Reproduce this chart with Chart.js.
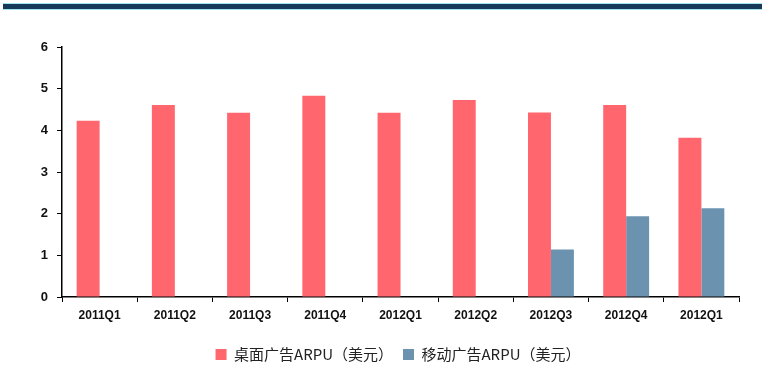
<!DOCTYPE html>
<html><head><meta charset="utf-8">
<script src="https://cdn.jsdelivr.net/npm/chart.js@4/dist/chart.umd.min.js"></script>
<style>
html,body{margin:0;padding:0;background:#fff;}
#wrap{position:relative;width:762px;height:378px;}
#band{position:absolute;left:3px;top:3px;width:759px;height:5px;background:#17395a;border-top:1px solid #9fe3f0;border-bottom:1px solid #9fe3f0;}
canvas{position:absolute;left:0;top:0;}
</style></head>
<body><div id="wrap"><div id="band"></div><canvas id="c" width="762" height="378"></canvas></div>
<script>
const categories = ["2011Q1","2011Q2","2011Q3","2011Q4","2012Q1","2012Q2","2012Q3","2012Q4","2012Q1"];
const desktopARPU = [4.23,4.61,4.42,4.83,4.42,4.73,4.43,4.61,3.82];
const mobileARPU = [null,null,null,null,null,null,1.14,1.94,2.13];
const yTicks = [0,1,2,3,4,5,6];
const seriesNames = ["桌面广告ARPU（美元）","移动广告ARPU（美元）"];

new Chart(document.getElementById('c'), {
  type: 'bar',
  data: {
    labels: categories,
    datasets: [
      {label: seriesNames[0], data: desktopARPU, backgroundColor: '#ff666e', categoryPercentage: 0.61, barPercentage: 1.0},
      {label: seriesNames[1], data: mobileARPU, backgroundColor: '#6b93b0', categoryPercentage: 0.61, barPercentage: 1.0}
    ]
  },
  options: {
    responsive: false,
    animation: false,
    layout: {padding: {left: 34, right: 0, top: 47, bottom: 6}},
    plugins: {
      tooltip: {enabled: false},
      legend: {
        position: 'bottom',
        labels: {
          boxWidth: 11, boxHeight: 11, padding: 10,
          color: '#222',
          font: {family: '"Noto Sans CJK SC", "DejaVu Sans"', size: 15}
        }
      }
    },
    scales: {
      x: {
        grid: {display: true, drawOnChartArea: false, offset: true, tickLength: 5, color: '#000', lineWidth: 1},
        border: {color: '#000', width: 1.5},
        ticks: {color: '#111', padding: 6, maxRotation: 0, font: {family: '"Liberation Sans Narrow", "Liberation Sans", Arial', size: 12, weight: 'bold'}},
        afterFit: s => { s.height = 40; }
      },
      y: {
        min: 0, max: 6,
        afterBuildTicks: s => { s.ticks = yTicks.map(v => ({value: v})); },
        grid: {display: true, drawOnChartArea: false, tickLength: 5, color: '#000', lineWidth: 1},
        border: {color: '#000', width: 1.5},
        ticks: {color: '#111', padding: 9, font: {family: '"Liberation Sans", Arial', size: 13, weight: 'bold'}},
        afterFit: s => { s.width = 28; }
      },
      yRight: {
        position: 'right',
        display: true,
        grid: {display: false},
        border: {display: false},
        ticks: {display: false},
        afterFit: s => { s.width = 23; }
      }
    }
  }
});
</script></body></html>
